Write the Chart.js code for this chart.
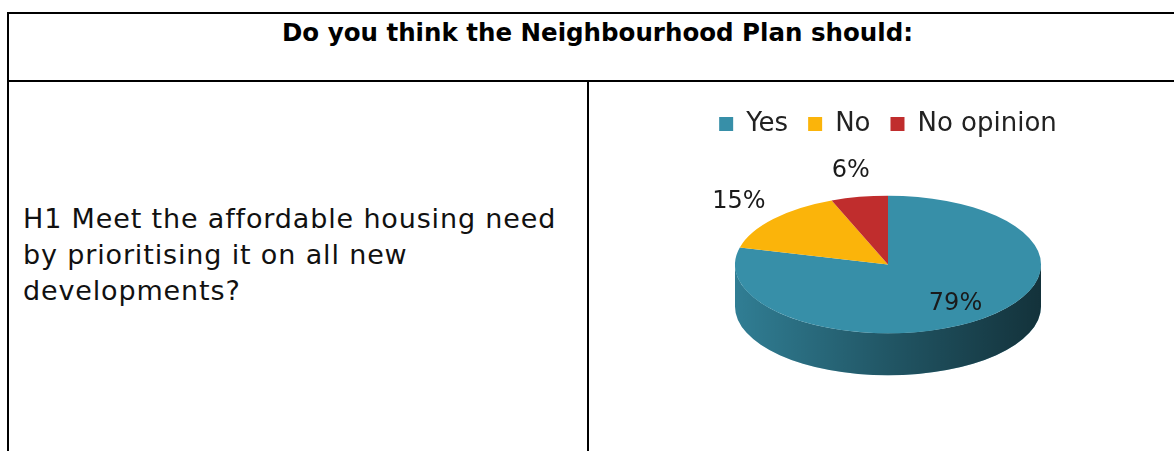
<!DOCTYPE html>
<html>
<head>
<meta charset="utf-8">
<title>H1 affordable housing</title>
<script src="https://cdn.jsdelivr.net/npm/chart.js@4.4.0/dist/chart.umd.min.js"></script>
<style>
    body {
        margin: 0;
        width: 1174px;
        height: 451px;
        overflow: hidden;
        background: #fff;
        position: relative;
        font-family: "DejaVu Sans", sans-serif;
        color: #000;
    }
    .rule { position: absolute; background: #000; }
    #title {
        position: absolute;
        left: 9px; top: 13px; width: 1177px;
        text-align: center;
        font-weight: bold;
        font-size: 24.5px;
        line-height: 40px;
    }
    #question {
        position: absolute;
        left: 23px; top: 201px;
        font-size: 27px;
        letter-spacing: 0.85px;
        line-height: 36px;
        color: #111;
    }
    #chartBox {
        position: absolute;
        left: 591px; top: 84px;
        width: 594px; height: 367px;
    }
</style>
</head>
<body>
    <!-- table borders -->
    <div class="rule" style="left:7px; top:12px; width:1200px; height:2px;"></div>
    <div class="rule" style="left:7px; top:12px; width:2px; height:460px;"></div>
    <div class="rule" style="left:7px; top:80px; width:1200px; height:2px;"></div>
    <div class="rule" style="left:587px; top:80px; width:2px; height:400px;"></div>

    <div id="title">Do you think the Neighbourhood Plan should:</div>
    <div id="question">H1 Meet the affordable housing need<br>by prioritising it on all new<br>developments?</div>

    <div id="chartBox"><canvas id="pieChart"></canvas></div>

<script>
// Survey answers (percent)
const answerLabels = ['Yes', 'No', 'No opinion'];
const answerValues = [79, 15, 6];
const answerColors = ['#378FA8', '#FBB40A', '#C02D2D'];

// look of the fake 3D pie
const TILT = 0.45;     // vertical squash of the top face
const DEPTH = 42;      // thickness of the side wall, px
const PIE_RADIUS = 153;

// 3D pie: squash the top face, paint the front wall, then put labels on
const pie3d = {
    id: 'pie3d',
    beforeDatasetsDraw(chart) {
        const ctx = chart.ctx;
        const arcs = chart.getDatasetMeta(0).data;
        const { x, y, outerRadius: r } = arcs[0];
        ctx.save();
        ctx.translate(x, y);
        ctx.scale(1, TILT);
        ctx.translate(-x, -y);

        const d = DEPTH / TILT;
        arcs.forEach((arc, i) => {
            // only the part of each slice facing us (angles 0..PI) has a visible wall
            [0, 2 * Math.PI, -2 * Math.PI].forEach(off => {
                const a0 = Math.max(arc.startAngle + off, 0);
                const a1 = Math.min(arc.endAngle + off, Math.PI);
                if (a1 <= a0) return;
                ctx.beginPath();
                ctx.arc(x, y, r, a0, a1);
                ctx.arc(x, y + d, r, a1, a0, true);
                ctx.closePath();
                ctx.fillStyle = answerColors[i];
                ctx.fill();
                const shade = ctx.createLinearGradient(x - r, 0, x + r, 0);
                shade.addColorStop(0, 'rgba(0,0,0,0.12)');
                shade.addColorStop(0.5, 'rgba(0,0,0,0.4)');
                shade.addColorStop(1, 'rgba(0,0,0,0.65)');
                ctx.fillStyle = shade;
                ctx.fill();
            });
        });
    },
    afterDatasetsDraw(chart) {
        const ctx = chart.ctx;
        ctx.restore();

        const arcs = chart.getDatasetMeta(0).data;
        ctx.save();
        ctx.font = '24px "DejaVu Sans"';
        ctx.fillStyle = '#1a1a1a';
        ctx.textAlign = 'center';
        ctx.textBaseline = 'middle';
        arcs.forEach((arc, i) => {
            const mid = (arc.startAngle + arc.endAngle) / 2;
            const inside = answerValues[i] > 50;
            const dist = arc.outerRadius * (inside ? 0.72 : 1.3);
            const lx = arc.x + Math.cos(mid) * dist;
            // outside labels sit a little higher, like the tilted original
            const ly = arc.y + Math.sin(mid) * dist * (inside ? TILT : 0.48);
            ctx.fillText(answerValues[i] + '%', lx, ly);
        });
        ctx.restore();
    }
};

new Chart(document.getElementById('pieChart'), {
    type: 'pie',
    data: {
        labels: answerLabels,
        datasets: [{
            data: answerValues,
            backgroundColor: answerColors,
            borderWidth: 0,
            radius: PIE_RADIUS,
            clip: false
        }]
    },
    options: {
        responsive: true,
        maintainAspectRatio: false,
        animation: false,
        events: [],
        layout: {
            padding: { top: 7, bottom: 69, left: 0, right: 0 }
        },
        plugins: {
            legend: {
                position: 'top',
                labels: {
                    boxWidth: 14,
                    boxHeight: 14,
                    padding: 20,
                    color: '#222',
                    font: { family: '"DejaVu Sans"', size: 26 }
                }
            },
            tooltip: { enabled: false }
        }
    },
    plugins: [pie3d]
});
</script>
</body>
</html>
